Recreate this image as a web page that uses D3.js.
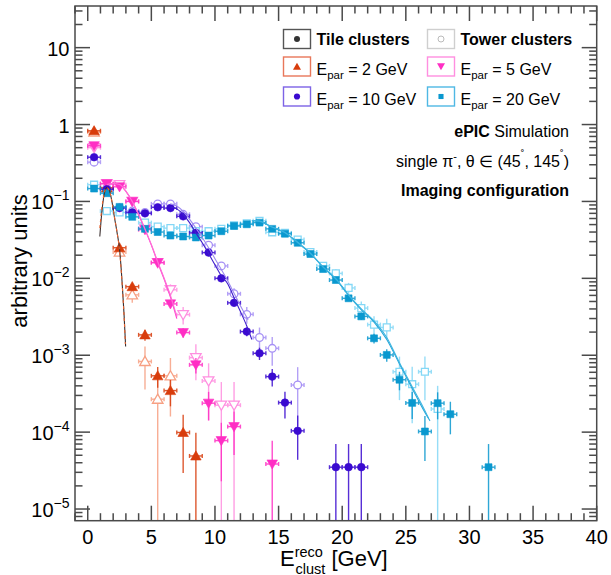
<!DOCTYPE html>
<html><head><meta charset="utf-8">
<script src="https://cdn.jsdelivr.net/npm/d3@7"></script>
<style>body{margin:0;background:#fff} svg{font-family:"Liberation Sans",Arial,Helvetica,sans-serif}</style>
</head><body><svg id="c" width="611" height="575"></svg>
<script>
// ---------------- data ----------------
const binCenters = [0.5,1.5,2.5,3.5,4.5,5.5,6.5,7.5,8.5,9.5,10.5,11.5,12.5,13.5,14.5,15.5,16.5,17.5,18.5,19.5,20.5,21.5,22.5,23.5,24.5,25.5,26.5,27.5,28.5,29.5,30.5,31.5];
const binHalfWidth = 0.5;

const tile2  = [0.83,0.15,0.025,0.0078,0.00184,0.00054,0.000347,0.000099,0.000049];
const tower2 = [0.80,0.15,0.022,0.0061,0.00083,0.000268,0.00054];
const tile5  = [0.53,0.17,0.155,0.10,0.043,0.016,0.00465,0.00197,0.00075,0.000238,0.0000776,0.000118,null,null,0.0000385];
const tower5 = [0.50,0.17,0.165,0.10,0.045,0.016,0.0071,0.00337,0.00093,0.000463,0.000224,0.000224];
const tile10 = [0.376,0.144,0.082,0.072,0.070,0.084,0.082,0.064,0.039,0.0216,0.0100,0.0048,0.00203,0.00106,0.000527,0.000242,0.000104,null,null,0.000035,0.000035,0.000035];
const tower10= [0.324,0.15,0.083,0.075,0.072,0.093,0.093,0.068,0.047,0.027,0.0145,0.0063,0.0034,0.0017,0.00123,null,0.00041];
const tile20 = [0.147,0.128,0.085,0.063,0.044,0.040,0.036,0.035,0.034,0.036,0.041,0.048,0.0505,0.053,0.044,0.038,0.029,0.0207,0.0132,0.0095,0.0055,0.0032,0.00166,0.00101,0.00048,0.00024,0.000102,0.000238,0.000171,null,null,0.000035];
const tower20= [0.165,0.075,0.072,0.070,0.053,0.047,0.045,0.045,0.041,0.041,0.044,0.049,0.052,0.056,0.0397,0.039,0.032,0.022,0.0145,0.0116,0.0075,0.0041,0.0025,0.0023,0.00061,0.00042,0.00061,0.0002];

// weight of a single entry (sets the Poisson error bars)
const entryWeightTile  = [4.9e-5, 3.85e-5, 3.5e-5, 3.5e-5];
const entryWeightTower = [2.68e-4, 2.24e-4, 2.05e-4, 2.0e-4];

// fitted curves: [E, value]
const fit2tile  = [[0.95,0.035],[1.1,0.07],[1.3,0.125],[1.5,0.152],[1.7,0.14],[1.9,0.1],[2.1,0.062],[2.3,0.04],[2.5,0.024],[2.7,0.009],[2.85,0.0035],[2.98,0.0013]];
const fit2tower = [[0.95,0.045],[1.1,0.08],[1.3,0.128],[1.5,0.151],[1.7,0.138],[1.9,0.1],[2.1,0.063],[2.3,0.04],[2.5,0.023],[2.7,0.0087],[2.85,0.0034],[2.96,0.0014]];
const fit5tile  = [[1.5,0.165],[2.0,0.17],[2.5,0.165],[3.0,0.135],[3.5,0.1],[4.0,0.067],[4.5,0.043],[5.0,0.027],[5.5,0.016],[6.0,0.0098],[6.5,0.0057],[7.0,0.003]];
const fit5tower = [[1.5,0.166],[2.0,0.171],[2.5,0.166],[3.0,0.136],[3.5,0.1],[4.0,0.068],[4.5,0.044],[5.0,0.0275],[5.5,0.0165],[6.0,0.0101],[6.5,0.006],[7.0,0.0032]];
const fit10tile = [[6.5,0.085],[7.0,0.08],[7.5,0.068],[8.0,0.053],[8.5,0.039],[9.0,0.029],[9.5,0.021],[10.0,0.015],[10.5,0.0108],[11.0,0.0085],[11.5,0.0056],[12.0,0.0037],[12.5,0.0024],[12.9,0.0016]];
const fit10tower= [[6.5,0.093],[7.0,0.087],[7.5,0.074],[8.0,0.059],[8.5,0.045],[9.0,0.034],[9.5,0.025],[10.0,0.018],[10.5,0.013],[11.0,0.0093],[11.5,0.0064],[12.0,0.0044],[12.6,0.0029]];
const fit20tile = [[12.9,0.056],[13.5,0.055],[14.5,0.046],[15.5,0.039],[16.5,0.029],[17.5,0.021],[18.5,0.0139],[19.5,0.0097],[20.5,0.006],[21.5,0.0039],[22.5,0.0027],[23.5,0.0016],[24.5,0.00077],[25.5,0.00037],[26.5,0.00018],[26.9,0.00014]];
const fit20tower= [[12.9,0.0565],[13.5,0.0555],[14.5,0.0465],[15.5,0.0395],[16.5,0.0295],[17.5,0.0213],[18.5,0.0141],[19.5,0.0099],[20.5,0.0061],[21.5,0.004],[22.5,0.0028],[23.5,0.0017],[24.5,0.0008],[25.5,0.00039],[26.5,0.00019],[26.8,0.00015]];

const xDomain = [-1, 40];
const yDomain = [7.05e-6, 34.8];
const xMajorTicks = [0,5,10,15,20,25,30,35,40];
const yMajorTicks = [1e-5,1e-4,1e-3,1e-2,1e-1,1,10];
const yTickExp = [-5,-4,-3,-2,-1,0,1];

const energies = ["2","5","10","20"];
const tileColors  = ["#d83c0c","#ff2ec4","#3a0ad0","#0a98cf"];
const towerColors = ["#f7a083","#ff8fe0","#a690f5","#84d8f6"];
const tileFitColors  = ["#3b3030","#ff3fcc","#3f1ecc","#25a6d8"];
const towerFitColors = ["#e8622e","#ff6fd8","#9c88f0","#3cb4e0"];
const symbols = ["up","down","circle","square"];
const tileSeries  = [tile2,tile5,tile10,tile20];
const towerSeries = [tower2,tower5,tower10,tower20];
const tileFits  = [fit2tile,fit5tile,fit10tile,fit20tile];
const towerFits = [fit2tower,fit5tower,fit10tower,fit20tower];

// ---------------- drawing ----------------
const svg = d3.select("#c");
const F = {left:75, right:596.7, top:6, bottom:520.7};
const x = d3.scaleLinear().domain(xDomain).range([F.left, F.right]);
const y = d3.scaleLog().domain(yDomain).range([F.bottom, F.top]);

svg.append("defs").append("clipPath").attr("id","clip")
  .append("rect").attr("x",F.left).attr("y",F.top).attr("width",F.right-F.left).attr("height",F.bottom-F.top);
const plot = svg.append("g").attr("clip-path","url(#clip)");

function symPath(kind, size){
  if(kind==="circle") return d3.symbol(d3.symbolCircle, size)();
  if(kind==="square") return d3.symbol(d3.symbolSquare, size)();
  return d3.symbol(d3.symbolTriangle, size)();
}
function symTransform(kind, px, py){
  let t = `translate(${px},${py})`;
  if(kind==="up") t += " translate(0,1)";
  if(kind==="down") t += " rotate(180) translate(0,1)";
  return t;
}
const symSize = {up:48, down:48, circle:46, square:48};

function drawSeries(vals, w, color, kind, open){
  const g = plot.append("g");
  const pts = vals.map((v,i)=>({c:binCenters[i], v, e:v==null?0:Math.sqrt(v*w)})).filter(d=>d.v!=null);
  const eg = g.append("g").attr("stroke",color).attr("stroke-width",1.4).attr("opacity",0.85);
  pts.forEach(d=>{
    const py = y(d.v);
    const lo = d.v - d.e;
    const yLo = lo <= yDomain[0] ? F.bottom+2 : y(lo);
    const yHi = y(d.v + d.e);
    const xa = x(d.c - binHalfWidth), xb = x(d.c + binHalfWidth), xc = x(d.c);
    eg.append("line").attr("x1",xa).attr("x2",xb).attr("y1",py).attr("y2",py);
    eg.append("line").attr("x1",xc).attr("x2",xc).attr("y1",yLo).attr("y2",yHi);
    eg.append("line").attr("x1",xa).attr("x2",xa).attr("y1",py-2).attr("y2",py+2);
    eg.append("line").attr("x1",xb).attr("x2",xb).attr("y1",py-2).attr("y2",py+2);
  });
  g.selectAll("path.m").data(pts).join("path").attr("class","m")
    .attr("d", symPath(kind, symSize[kind]))
    .attr("transform", d=>symTransform(kind, x(d.c), y(d.v)))
    .attr("fill", open ? "#fff" : color)
    .attr("stroke", color).attr("stroke-width", open?1.3:0.6);
}
const line = d3.line().x(d=>x(d[0])).y(d=>y(d[1])).curve(d3.curveMonotoneX);
function drawFit(pts, color, dash){
  const p = plot.append("path").attr("d", line(pts)).attr("fill","none").attr("stroke",color).attr("stroke-width",1.1);
  if(dash) p.attr("stroke-dasharray", dash);
}

for(let k=0;k<4;k++) drawSeries(towerSeries[k], entryWeightTower[k], towerColors[k], symbols[k], true);
for(let k=0;k<4;k++) drawSeries(tileSeries[k], entryWeightTile[k], tileColors[k], symbols[k], false);
for(let k=0;k<4;k++){ drawFit(tileFits[k], tileFitColors[k]); drawFit(towerFits[k], towerFitColors[k], k===0?"3,3":null); }

// ---------------- axes ----------------
const axisColor = "#4a4a4a";
const ax = svg.append("g").attr("stroke",axisColor).attr("stroke-width",1.5);
ax.append("rect").attr("x",F.left).attr("y",F.top).attr("width",F.right-F.left).attr("height",F.bottom-F.top).attr("fill","none");
const xMinor = d3.range(xDomain[0], xDomain[1]+0.001, 1);
xMinor.forEach(v=>{
  const major = xMajorTicks.includes(v);
  const L = major?15:7.5;
  ax.append("line").attr("x1",x(v)).attr("x2",x(v)).attr("y1",F.bottom).attr("y2",F.bottom-L);
  ax.append("line").attr("x1",x(v)).attr("x2",x(v)).attr("y1",F.top).attr("y2",F.top+L);
});
for(let e=-6;e<=1;e++){
  for(let m=1;m<=9;m++){
    const v = m*Math.pow(10,e);
    if(v<yDomain[0]||v>yDomain[1]) continue;
    const L = m===1?15:7.5;
    ax.append("line").attr("x1",F.left).attr("x2",F.left+L).attr("y1",y(v)).attr("y2",y(v));
    ax.append("line").attr("x1",F.right).attr("x2",F.right-L).attr("y1",y(v)).attr("y2",y(v));
  }
}
const tl = svg.append("g").attr("fill","#000");
xMajorTicks.forEach(v=>{
  tl.append("text").attr("x",x(v)).attr("y",543.5).attr("text-anchor","middle").attr("font-size",20).text(v);
});
yMajorTicks.forEach((v,i)=>{
  const ex = yTickExp[i];
  const t = tl.append("text").attr("x",69.5).attr("y",y(v)+8).attr("text-anchor","end").attr("font-size",20);
  if(ex===0) t.text("1");
  else if(ex===1) t.text("10");
  else { t.append("tspan").text("10"); t.append("tspan").attr("font-size",14).attr("dy",-9).text("\u2212"+(-ex)); }
});
// axis titles
const xt = svg.append("text").attr("x",280).attr("y",566).attr("font-size",22);
xt.append("tspan").text("E");
xt.append("tspan").attr("font-size",14.5).attr("dy",-9.5).text("reco");
xt.append("tspan").attr("font-size",14.5).attr("x",295.5).attr("dy",17).text("clust");
xt.append("tspan").attr("font-size",22).attr("dy",-7.5).text(" [GeV]");
svg.append("text").attr("transform","translate(27,261) rotate(-90)").attr("text-anchor","middle").attr("font-size",22).text("arbitrary units");

// ---------------- legend ----------------
const lg = svg.append("g");
function legBox(bx, by, stroke){
  lg.append("rect").attr("x",bx).attr("y",by).attr("width",27).attr("height",19).attr("fill","#fff").attr("stroke",stroke).attr("stroke-width",1.4);
}
legBox(283.5,29.5,"#555"); lg.append("circle").attr("cx",297).attr("cy",39).attr("r",3).attr("fill","#333");
lg.append("text").attr("x",316.5).attr("y",45).attr("font-size",16).attr("font-weight","bold").text("Tile clusters");
legBox(427.5,29.5,"#cfcfcf"); lg.append("circle").attr("cx",441).attr("cy",39).attr("r",3).attr("fill","#fff").attr("stroke","#bbb").attr("stroke-width",1);
lg.append("text").attr("x",460.5).attr("y",45).attr("font-size",16).attr("font-weight","bold").text("Tower clusters");
const legPos = [[283.5,57],[427.5,57],[283.5,87],[427.5,87]];
const legMarkColor = ["#d83c0c","#ff2ec4","#3a0ad0","#0a98cf"];
const legBoxColor = ["#e8775a","#ff8fe0","#7d63e6","#4fb8e4"];
energies.forEach((en,k)=>{
  const [bx,by] = legPos[k];
  legBox(bx,by,legBoxColor[k]);
  const kind = symbols[k];
  lg.append("path").attr("d", symPath(kind, kind==="circle"?30:kind==="square"?26:28))
    .attr("transform", symTransform(kind, bx+13.5, by+9.5)).attr("fill",legMarkColor[k]);
  const t = lg.append("text").attr("x",bx+33).attr("y",by+18).attr("font-size",16);
  t.append("tspan").text("E");
  t.append("tspan").attr("font-size",11.5).attr("dy",4).text("par");
  t.append("tspan").attr("dy",-4).text(" = "+en+" GeV");
});
const lab = svg.append("g").attr("font-size",16).attr("text-anchor","end");
const l1 = lab.append("text").attr("x",569).attr("y",137);
l1.append("tspan").attr("font-weight","bold").text("ePIC");
l1.append("tspan").text(" Simulation");
const l2 = lab.append("text").attr("x",569).attr("y",167);
l2.append("tspan").text("single \u03c0");
l2.append("tspan").attr("font-size",11).attr("dy",-7).text("-");
l2.append("tspan").attr("dy",7).text(", \u03b8 \u2208 (45");
l2.append("tspan").attr("font-size",11).attr("dy",-9).text("\u02da");
l2.append("tspan").attr("dy",9).text(", 145");
l2.append("tspan").attr("font-size",11).attr("dy",-9).text("\u02da");
l2.append("tspan").attr("dy",9).text(")");
lab.append("text").attr("x",569).attr("y",195.5).attr("font-weight","bold").text("Imaging configuration");
</script></body></html>
